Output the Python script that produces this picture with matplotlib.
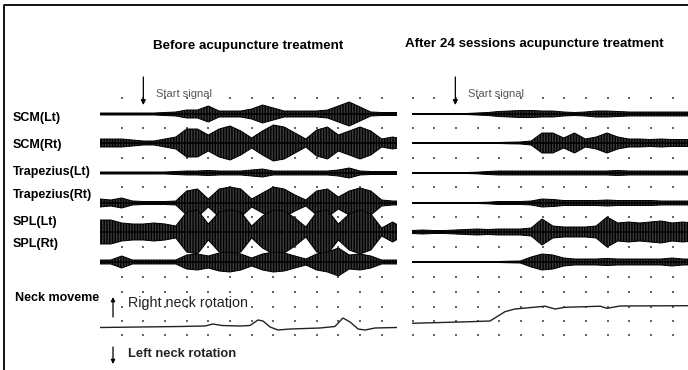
import numpy as np
import matplotlib.pyplot as plt
from matplotlib.transforms import Bbox, TransformedBbox

plt.rcParams['font.family'] = ['Liberation Sans', 'DejaVu Sans']
plt.rcParams['hatch.linewidth'] = 1.0

W, H = 688, 370
grid = 21.67  # pixels per time division

muscles = ['SCM(Lt)', 'SCM(Rt)', 'Trapezius(Lt)', 'Trapezius(Rt)', 'SPL(Lt)', 'SPL(Rt)']
label_y = [118, 145, 172, 195, 222, 244]
trace_y = [114, 143, 173, 203, 232, 262]
dot_rows = [98, 128, 158, 187, 217, 247, 277, 292, 307, 321, 335]
neck_y = 327.5

# EMG envelope (half amplitude), one value every half division
before_scm_lt = [1, 1, 1, 1, 1, 1, 1.5, 2, 4, 4, 8, 3, 3, 3, 5, 9, 6, 3, 3, 3, 3, 4, 8, 12, 7, 2, 1.5, 1.5, 1.5]
before_scm_rt = [4, 4, 4, 3, 2, 2, 4, 6, 14, 14, 8, 14, 17, 12, 5, 12, 18, 16, 10, 4, 13, 16, 8, 12, 16, 12, 4, 6, 4]
before_trap_lt = [1, 1, 1, 1, 1, 1, 1, 1.5, 2, 2, 2.5, 2, 2, 2, 3, 4, 2, 2, 2, 2, 2, 2, 3, 5, 2, 1.5, 1.5, 1.5, 1.5]
before_trap_rt = [4, 3, 5, 2, 1.5, 1.5, 1.5, 2, 12, 14, 4, 14, 16, 14, 4, 10, 16, 14, 8, 3, 12, 14, 6, 12, 15, 12, 3, 2, 2]
before_spl_lt = [12, 12, 9, 8, 8, 9, 8, 6, 20, 22, 8, 20, 22, 20, 6, 16, 22, 21, 14, 5, 20, 22, 8, 18, 22, 18, 4, 10, 4]
before_spl_rt = [2, 2, 6, 2, 2, 2, 2, 2, 7, 8, 6, 9, 10, 8, 4, 8, 10, 9, 6, 3, 8, 10, 14, 7, 8, 6, 2, 2, 2]

after_scm_lt = [0.5, 0.5, 0.5, 0.5, 0.5, 0.5, 1, 1.5, 2.5, 3, 3.5, 3.5, 3, 3, 2, 1.5, 2, 3, 3, 2.5, 2, 2, 2, 2, 2, 2, 2]
after_scm_rt = [0.5, 0.5, 0.5, 0.5, 0.5, 0.5, 0.5, 0.5, 0.5, 0.8, 1, 2, 10, 10, 5, 10, 4, 6, 10, 6, 4, 4, 3.5, 4, 3.5, 3.5, 3.5]
after_trap_lt = [0.5, 0.5, 0.5, 0.5, 0.5, 0.5, 0.8, 1.5, 2, 2, 2, 2, 2, 2, 2, 2, 2, 2, 2, 2.5, 2, 2, 2, 2, 2, 2, 2]
after_trap_rt = [0.5, 0.5, 0.5, 0.5, 0.5, 0.5, 0.5, 0.8, 1.5, 1.5, 1.5, 2, 4, 3.5, 2.5, 2.5, 2.5, 2.5, 3, 2.5, 2.5, 2.5, 2.5, 2, 2, 2, 2]
after_spl_lt = [1.5, 2, 1.5, 1.5, 2, 2.5, 3, 2.5, 3, 3, 3, 4, 13, 6, 5, 5, 5, 6, 15, 9, 10, 9, 10, 11, 9, 10, 9]
after_spl_rt = [0.5, 0.5, 0.5, 0.5, 0.5, 0.5, 0.5, 0.5, 0.5, 0.8, 1, 5, 8, 7, 4, 3, 3, 3, 3.5, 3, 3, 3, 3, 3, 4, 3, 3]

# neck rotation (upward = right rotation), time in divisions
before_neck_t = [0, 1.85, 3.69, 4.85, 5.21, 5.63, 6.46, 6.92, 7.29, 7.52, 7.85, 8.21, 8.77, 10.15, 10.84, 11.21, 11.54, 11.91, 12.23, 12.69, 13.7]
before_neck = [0, 0.5, 1, 1.5, 3.5, 2, 1.5, 2, 7.5, 6.5, 0.5, -2.5, -1.5, -0.5, 1, 9.5, 5.5, -1.5, -2.5, -0.5, 0]
after_neck_t = [0, 2.68, 3.6, 4.29, 4.75, 5.91, 6.14, 6.6, 7.06, 7.98, 8.68, 9.0, 9.6, 12.74]
after_neck = [4.2, 5.8, 6.5, 15.8, 18.5, 20.8, 21.3, 18.5, 20.2, 20.8, 21.3, 19.2, 21.5, 21.8]

start_t = 2.0

fig = plt.figure(figsize=(W / 100, H / 100), dpi=100)


def panel(x0, x1, traces, neck_t, neck, dots_from):
    ax = fig.add_axes([x0 / W, 0, (x1 - x0) / W, 1])
    ax.set_xlim(0, (x1 - x0) / grid)
    ax.set_ylim(H, 0)
    ax.axis('off')
    cols = np.arange(dots_from, (x1 - x0) / grid, 1.0)
    cx, cy = np.meshgrid(cols, dot_rows)
    ax.scatter(cx.ravel(), cy.ravel(), s=1.5, marker='s', color='#666666', lw=0)
    for base, env in zip(trace_y, traces):
        t = np.arange(len(env)) * 0.5
        env = np.array(env)
        ax.fill_between(t, base - env, base + env, facecolor='#3c3c3c', edgecolor='#000000',
                        hatch='||||||', lw=0.7)
        ax.plot([0, t[-1]], [base, base], color='black', lw=1.2)
    ax.plot(neck_t, neck_y - np.array(neck), color='#222222', lw=1.0)
    ax.annotate('', xy=(start_t, 105), xytext=(start_t, 77),
                arrowprops=dict(arrowstyle='-|>', color='black', lw=0.9,
                                mutation_scale=7, shrinkA=0, shrinkB=0))
    ax.text(start_t + 0.6, 94, 'Start signal', fontsize=8, color='#555555', va='center')
    return ax


panel(100, 397, [before_scm_lt, before_scm_rt, before_trap_lt, before_trap_rt, before_spl_lt, before_spl_rt],
      before_neck_t, before_neck, 1.0)
panel(412, W, [after_scm_lt, after_scm_rt, after_trap_lt, after_trap_rt, after_spl_lt, after_spl_rt],
      after_neck_t, after_neck, 0.03)

ov = fig.add_axes([0, 0, 1, 1])
ov.set_xlim(0, W)
ov.set_ylim(H, 0)
ov.axis('off')
ov.plot([4, 4, W], [H, 5, 5], color='black', lw=1.3)

ov.text(248, 46, 'Before acupuncture treatment', fontsize=9.6, fontweight='bold', ha='center', va='center')
ov.text(534, 44.5, 'After 24 sessions acupuncture treatment', fontsize=9.6, fontweight='bold', ha='center', va='center')

for name, y in zip(muscles, label_y):
    ov.text(13, y, name, fontsize=9, fontweight='bold', va='center')

neck_lbl = ov.text(15, 298, 'Neck movement', fontsize=9, fontweight='bold', va='center')
neck_lbl.set_clip_box(TransformedBbox(Bbox.from_bounds(0, 0, 100 / W, 1), fig.transFigure))
neck_lbl.set_clip_on(True)

ov.annotate('', xy=(113, 297), xytext=(113, 317),
            arrowprops=dict(arrowstyle='-|>', color='black', lw=0.9, mutation_scale=6, shrinkA=0, shrinkB=0))
ov.text(128, 303, 'Right neck rotation', fontsize=10.3, va='center', color='#222222')
ov.annotate('', xy=(113, 364), xytext=(113, 347),
            arrowprops=dict(arrowstyle='-|>', color='black', lw=0.9, mutation_scale=6, shrinkA=0, shrinkB=0))
ov.text(128, 354, 'Left neck rotation', fontsize=9.3, fontweight='bold', va='center', color='#222222')

fig.savefig('out.png', dpi=100)
